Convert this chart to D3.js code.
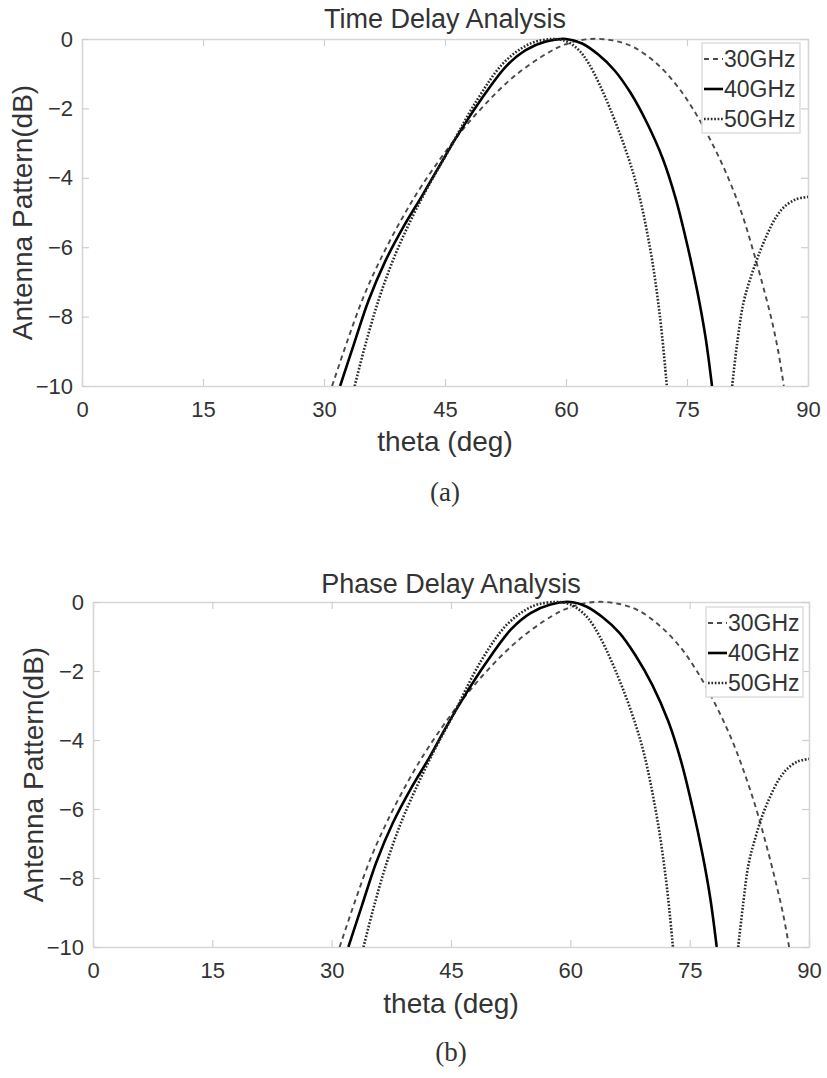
<!DOCTYPE html>
<html>
<head>
<meta charset="utf-8">
<script src="https://cdn.jsdelivr.net/npm/d3@7"></script>
<style>
  body { margin: 0; background: #fff; }
  svg text { font-family: "Liberation Sans", Arial, sans-serif; fill: #333; }
</style>
</head>
<body>
<div id="chart"></div>
<script>
const WIDTH = 827;
const HEIGHT = 1078;

const THETA_TICKS = [0, 15, 30, 45, 60, 75, 90];
const DB_TICKS = [0, -2, -4, -6, -8, -10];
const SERIES_LABELS = ["30GHz", "40GHz", "50GHz"];

// [theta (deg), pattern (dB)]; null splits the lobes
const TIME_30GHZ = [[31.0, -10], [32.9, -8.7], [34.9, -7.43], [37.0, -6.35], [39.6, -5.2], [42.2, -4.2],
    [46.2, -2.9], [49.7, -1.95], [53.5, -1.09], [57.6, -0.42], [60, -0.15], [63, 0], [66, -0.05],
    [68.5, -0.25], [71.2, -0.7], [73.6, -1.3], [75.7, -2.0], [78.1, -3.0], [80.2, -4.05], [81.9, -5.1],
    [83.2, -6.1], [84.4, -7.1], [85.5, -8.1], [86.35, -9.05], [87.0, -10]];
const TIME_40GHZ = [[32.0, -10], [33.7, -8.8], [35.5, -7.55], [37.6, -6.4], [40, -5.35], [42.1, -4.54],
    [44.4, -3.62], [46.5, -2.8], [49.3, -1.8], [52.6, -0.78], [55, -0.32], [57.5, -0.07], [60, 0],
    [62, -0.13], [64, -0.45], [66, -0.9], [68, -1.55], [70, -2.4], [72, -3.45], [73.6, -4.6],
    [75.1, -6.0], [76.3, -7.3], [77.3, -8.6], [78.1, -10]];
const TIME_50GHZ = [[33.8, -10], [35.2, -8.75], [36.8, -7.5], [38.6, -6.35], [40.6, -5.3], [42.8, -4.3],
    [45.0, -3.4], [49.0, -1.75], [52.3, -0.68], [55.5, -0.14], [58.3, 0], [60, -0.06], [61.5, -0.3],
    [62.8, -0.7], [65.45, -2.0], [68.5, -4.0], [70.4, -6.0], [71.65, -8.0], [72.5, -10], [76, null],
    [80.6, -10], [81.2, -8.8], [82, -7.6], [83, -6.8], [84, -6.15], [85, -5.6], [86, -5.15],
    [87, -4.85], [88.5, -4.62], [90, -4.55]];

const PHASE_30GHZ = [[31.0, -10], [32.9, -8.7], [34.9, -7.43], [37.0, -6.35], [39.6, -5.2], [42.2, -4.2],
    [46.2, -2.9], [49.7, -1.95], [53.5, -1.1], [57.6, -0.42], [60, -0.15], [63, 0], [66, -0.05],
    [68.6, -0.25], [71.3, -0.7], [73.8, -1.3], [75.9, -2.0], [78.3, -3.0], [80.4, -4.05], [82.1, -5.1],
    [83.5, -6.1], [84.7, -7.1], [85.8, -8.1], [86.75, -9.05], [87.5, -10]];
const PHASE_40GHZ = [[32.1, -10], [33.8, -8.8], [35.6, -7.55], [37.7, -6.4], [40.1, -5.35], [42.2, -4.54],
    [44.4, -3.62], [46.5, -2.8], [49.3, -1.8], [52.6, -0.78], [55, -0.32], [57.5, -0.07], [60, 0],
    [62, -0.13], [64.1, -0.45], [66.2, -0.9], [68.2, -1.55], [70.3, -2.4], [72.3, -3.45], [73.9, -4.6],
    [75.4, -6.0], [76.6, -7.3], [77.6, -8.6], [78.4, -10]];
const PHASE_50GHZ = [[34.0, -10], [35.4, -8.75], [37.0, -7.5], [38.8, -6.35], [40.8, -5.3], [42.9, -4.3],
    [45.0, -3.4], [48.8, -1.7], [52.1, -0.64], [55.3, -0.12], [58.2, 0], [60, -0.07], [61.6, -0.32],
    [63.0, -0.72], [65.7, -2.0], [68.8, -4.0], [70.7, -6.0], [72.0, -8.0], [72.9, -10], [77, null],
    [81.1, -10], [81.7, -8.8], [82.4, -7.6], [83.3, -6.8], [84.2, -6.15], [85.2, -5.6], [86.2, -5.15],
    [87.2, -4.85], [88.6, -4.62], [90, -4.55]];

const STYLES = [
    {dash: "5,4", width: 1.9, color: "#4a4a4a"},
    {dash: null, width: 2.6, color: "#000"},
    {dash: "1.7,1.7", width: 2.6, color: "#2a2a2a"}
];

const PANELS = [
    {id: "a", title: "Time Delay Analysis", caption: "(a)",
     left: 82, right: 808, top: 39, bottom: 386,
     titleY: 28, tickPad: 15, xLabelY: 451, yLabelX: 32, captionY: 501,
     legend: {x: 702, y: 43, w: 98, h: 90},
     series: [TIME_30GHZ, TIME_40GHZ, TIME_50GHZ]},
    {id: "b", title: "Phase Delay Analysis", caption: "(b)",
     left: 93, right: 809, top: 602, bottom: 947,
     titleY: 593, tickPad: 15, xLabelY: 1013, yLabelX: 43, captionY: 1061,
     legend: {x: 706, y: 607, w: 97, h: 90},
     series: [PHASE_30GHZ, PHASE_40GHZ, PHASE_50GHZ]}
];

let svg = d3.select("#chart")
    .append("svg")
    .attr("width", WIDTH)
    .attr("height", HEIGHT);

let defs = svg.append("defs");

function styleAxis(g) {
    g.select(".domain").attr("stroke", "#d6d6d6").attr("stroke-width", 1.6).attr("fill", "none");
    g.selectAll(".tick line").attr("stroke", "#cfcfcf").attr("stroke-width", 1.2);
    g.selectAll(".tick text").style("font-size", "22px").attr("fill", "#333");
}

function drawPanel(p) {
    let x = d3.scaleLinear().domain([0, 90]).range([p.left, p.right]);
    let y = d3.scaleLinear().domain([-10, 0]).range([p.bottom, p.top]);

    let g = svg.append("g").attr("class", "panel-" + p.id);

    // a little headroom so the peaks are not cut in half
    defs.append("clipPath")
        .attr("id", "clip-" + p.id)
        .append("rect")
        .attr("x", p.left)
        .attr("y", p.top - 2)
        .attr("width", p.right - p.left)
        .attr("height", p.bottom - p.top + 2);

    // axes box with inward ticks on all sides
    g.append("g")
        .attr("transform", `translate(0,${p.bottom})`)
        .call(d3.axisBottom(x).tickValues(THETA_TICKS).tickSizeInner(-7).tickSizeOuter(0).tickPadding(p.tickPad))
        .call(styleAxis);
    g.append("g")
        .attr("transform", `translate(0,${p.top})`)
        .call(d3.axisTop(x).tickValues(THETA_TICKS).tickSizeInner(-7).tickSizeOuter(0).tickFormat(""))
        .call(styleAxis);
    g.append("g")
        .attr("transform", `translate(${p.left},0)`)
        .call(d3.axisLeft(y).tickValues(DB_TICKS).tickSizeInner(-7).tickSizeOuter(0).tickPadding(9))
        .call(styleAxis);
    g.append("g")
        .attr("transform", `translate(${p.right},0)`)
        .call(d3.axisRight(y).tickValues(DB_TICKS).tickSizeInner(-7).tickSizeOuter(0).tickFormat(""))
        .call(styleAxis);

    let line = d3.line()
        .defined(d => d[1] !== null)
        .x(d => x(d[0]))
        .y(d => y(d[1]))
        .curve(d3.curveCatmullRom.alpha(0.5));

    g.append("g")
        .attr("clip-path", `url(#clip-${p.id})`)
        .selectAll("path.series")
        .data(p.series)
        .enter()
        .append("path")
        .attr("class", "series")
        .attr("fill", "none")
        .attr("stroke", (d, i) => STYLES[i].color)
        .attr("stroke-width", (d, i) => STYLES[i].width)
        .attr("stroke-dasharray", (d, i) => STYLES[i].dash)
        .attr("d", line);

    // titles and labels
    g.append("text")
        .attr("x", (p.left + p.right) / 2)
        .attr("y", p.titleY)
        .attr("text-anchor", "middle")
        .style("font-size", "27px")
        .text(p.title);

    g.append("text")
        .attr("x", (p.left + p.right) / 2)
        .attr("y", p.xLabelY)
        .attr("text-anchor", "middle")
        .style("font-size", "28px")
        .text("theta (deg)");

    g.append("text")
        .attr("transform", `translate(${p.yLabelX},${(p.top + p.bottom) / 2}) rotate(-90)`)
        .attr("text-anchor", "middle")
        .style("font-size", "28px")
        .text("Antenna Pattern(dB)");

    g.append("text")
        .attr("x", (p.left + p.right) / 2)
        .attr("y", p.captionY)
        .attr("text-anchor", "middle")
        .style("font-family", "'Liberation Serif', 'Times New Roman', serif")
        .style("font-size", "27px")
        .attr("fill", "#000")
        .text(p.caption);

    // legend
    let lg = g.append("g").attr("transform", `translate(${p.legend.x},${p.legend.y})`);
    lg.append("rect")
        .attr("width", p.legend.w)
        .attr("height", p.legend.h)
        .attr("fill", "#fff")
        .attr("stroke", "#dadada")
        .attr("stroke-width", 1.4);

    let rowH = p.legend.h / 3;
    SERIES_LABELS.forEach((label, i) => {
        let cy = rowH * (i + 0.5) + 1;
        lg.append("line")
            .attr("x1", 2)
            .attr("x2", 21)
            .attr("y1", cy)
            .attr("y2", cy)
            .attr("stroke", STYLES[i].color)
            .attr("stroke-width", STYLES[i].width)
            .attr("stroke-dasharray", STYLES[i].dash);
        lg.append("text")
            .attr("x", 22)
            .attr("y", cy)
            .attr("dy", "0.36em")
            .style("font-size", "23px")
            .text(label);
    });
}

PANELS.forEach(drawPanel);
</script>
</body>
</html>
